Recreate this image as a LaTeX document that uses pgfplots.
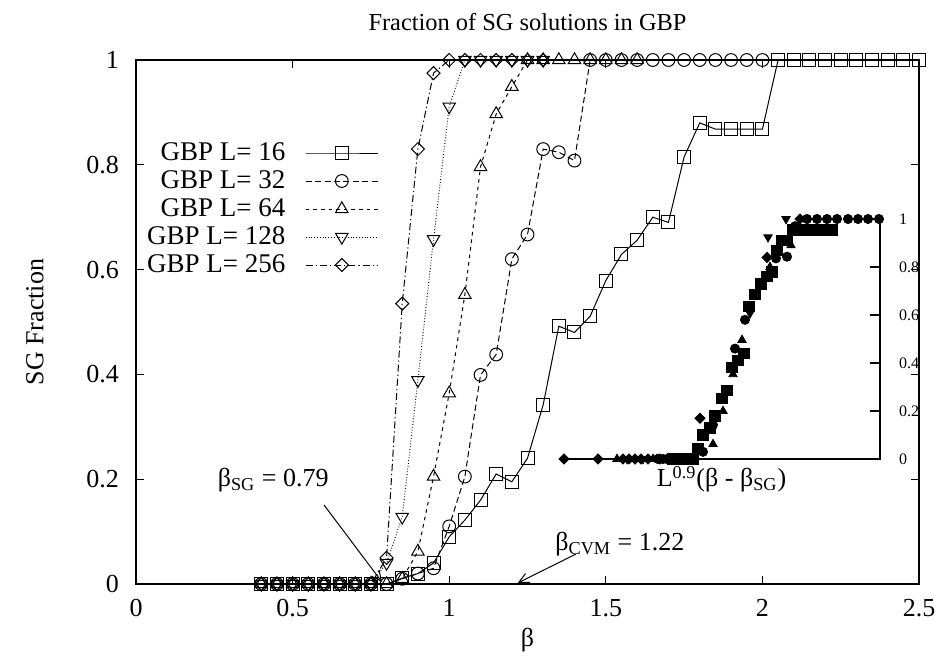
\documentclass[border=0pt]{standalone}
\usepackage{fontspec}
\setmainfont{Liberation Serif}
\usepackage{pgfplots}
\pgfplotsset{compat=1.18}
\usetikzlibrary{arrows.meta}
\begin{document}
\fontsize{13}{15.6}\selectfont
\begin{tikzpicture}
% main axis: 1px of the reference = 0.5pt
\begin{axis}[
  at={(68pt,41pt)}, anchor=south west,
  scale only axis, width=391.5pt, height=262pt,
  xmin=0, xmax=2.5, ymin=0, ymax=1,
  xtick={0,0.5,1,1.5,2,2.5}, xticklabels={0,0.5,1,1.5,2,2.5},
  ytick={0,0.2,0.4,0.6,0.8,1}, yticklabels={0,0.2,0.4,0.6,0.8,1},
  /pgf/number format/assume math mode=true,
  tick align=inside, major tick length=4pt,
  axis line style={line width=0.8pt},
  tick style={line width=0.6pt, black},
  yticklabel style={xshift=-4pt},
  xticklabel style={yshift=-3pt},
  clip=false,
  title={Fraction of SG solutions in GBP},
  every axis title/.style={at={(axis description cs:0.5,1.0725)}, anchor=center, font=\fontsize{12.2}{14}\selectfont},
  xlabel={β},
  every axis x label/.style={at={(axis description cs:0.5,-0.107)}, anchor=center},
  ylabel={SG Fraction},
  every axis y label/.style={at={(axis description cs:-0.129,0.5)}, anchor=center, rotate=90},
  legend style={draw=none, fill=none, at={(axis description cs:0.31,0.85)}, anchor=north east,
    inner sep=0pt, row sep=0pt, column sep=9pt,
    nodes={inner sep=1pt, text height=9.5pt, text depth=2.5pt, font=\fontsize{13.5}{16}\selectfont}},
  legend cell align=right,
  legend plot pos=right,
  legend image code/.code={\draw[mark repeat=2,mark phase=2,#1] plot coordinates {(0pt,0pt) (18pt,0pt) (36pt,0pt)};},
]
\addplot[black, line width=0.5pt, mark=square, mark size=3.25pt, mark options={solid}] coordinates {
(0.40,0)(0.45,0)(0.50,0)(0.55,0)(0.60,0)(0.65,0)(0.70,0)(0.75,0)(0.80,0)
(0.85,0.011)(0.90,0.02)(0.95,0.04)(1.00,0.09)(1.05,0.122)(1.10,0.16)(1.15,0.21)
(1.20,0.195)(1.25,0.24)(1.30,0.342)(1.35,0.492)(1.40,0.48)(1.45,0.511)(1.50,0.579)
(1.55,0.629)(1.60,0.656)(1.65,0.70)(1.70,0.69)(1.75,0.815)(1.80,0.88)(1.85,0.868)
(1.90,0.868)(1.95,0.868)(2.00,0.868)(2.05,1)(2.10,1)(2.15,1)(2.20,1)(2.25,1)
(2.30,1)(2.35,1)(2.40,1)(2.45,1)(2.50,1)};
\addlegendentry{GBP L= 16}
\addplot[black, line width=0.5pt, dash pattern=on 3pt off 1.7pt, mark=o, mark size=3.2pt, mark options={solid}] coordinates {
(0.40,0)(0.45,0)(0.50,0)(0.55,0)(0.60,0)(0.65,0)(0.70,0)(0.75,0)(0.80,0)
(0.85,0.01)(0.90,0.02)(0.95,0.03)(1.00,0.11)(1.05,0.205)(1.10,0.399)(1.15,0.438)
(1.20,0.62)(1.25,0.667)(1.30,0.83)(1.35,0.824)(1.40,0.808)(1.45,1)(1.50,1)
(1.55,1)(1.60,1)(1.65,1)(1.70,1)(1.75,1)(1.80,1)(1.85,1)(1.90,1)(1.95,1)(2.00,1)};
\addlegendentry{GBP L= 32}
\addplot[black, line width=0.5pt, dash pattern=on 1.8pt off 2pt, mark=triangle, mark size=3.6pt, mark options={solid}] coordinates {
(0.40,0)(0.45,0)(0.50,0)(0.55,0)(0.60,0)(0.65,0)(0.70,0)(0.75,0)(0.80,0)
(0.85,0.01)(0.90,0.062)(0.95,0.205)(1.00,0.364)(1.05,0.552)(1.10,0.796)(1.15,0.897)
(1.20,0.949)(1.25,1)(1.30,1)(1.35,1)(1.40,1)(1.45,1)(1.50,1)(1.55,1)(1.60,1)};
\addlegendentry{GBP L= 64}
\addplot[black, line width=0.5pt, dash pattern=on 0.4pt off 1pt, mark=triangle, mark size=3.6pt, mark options={solid, rotate=180}] coordinates {
(0.40,0)(0.45,0)(0.50,0)(0.55,0)(0.60,0)(0.65,0)(0.70,0)(0.75,0)
(0.80,0.04)(0.85,0.128)(0.90,0.389)(0.95,0.658)(1.00,0.911)(1.05,1)(1.10,1)
(1.15,1)(1.20,1)(1.25,1)(1.30,1)};
\addlegendentry{GBP L= 128}
\addplot[black, line width=0.5pt, dash pattern=on 3.5pt off 1.5pt on 0.6pt off 1.5pt, mark=square, mark size=2.3pt, mark options={solid, rotate=45}] coordinates {
(0.40,0)(0.45,0)(0.50,0)(0.55,0)(0.60,0)(0.65,0)(0.70,0)(0.75,0)
(0.80,0.05)(0.85,0.535)(0.90,0.83)(0.95,0.975)(1.00,1)(1.05,1)(1.10,1)
(1.15,1)(1.20,1)(1.25,1)(1.30,1)};
\addlegendentry{GBP L= 256}
\node at (axis cs:0.438,0.198) {β\textsubscript{SG} = 0.79};
\draw[line width=0.5pt, -{Straight Barb[length=5pt,width=5pt]}] (axis cs:0.6,0.151) -- (axis cs:0.785,0.004);
\node at (axis cs:1.545,0.076) {β\textsubscript{CVM} = 1.22};
\draw[line width=0.5pt, -{Straight Barb[length=5pt,width=5pt]}] (axis cs:1.404,0.057) -- (axis cs:1.219,0.002);
\end{axis}
% inset: data collapse, frame drawn only at the bottom and on the right
\begin{axis}[
  at={(281.5pt,103.5pt)}, anchor=south west,
  scale only axis, width=158.5pt, height=120pt,
  xmin=0, xmax=317, ymin=0, ymax=1,
  axis line style={draw=none},
  xtick=\empty,
  ytick={0,0.2,0.4,0.6,0.8,1}, yticklabels={0,0.2,0.4,0.6,0.8,1},
  ytick pos=right, yticklabel pos=right,
  /pgf/number format/assume math mode=true,
  tick align=inside, major tick length=5pt,
  tick style={line width=0.6pt, black},
  yticklabel style={font=\fontsize{8}{9.6}\selectfont, anchor=west, xshift=5pt},
  clip=false,
  xlabel={L\textsuperscript{0.9}(β - β\textsubscript{SG})},
  every axis x label/.style={at={(axis description cs:0.5,0)}, anchor=north, yshift=1pt},
]
\draw[line width=0.8pt] (rel axis cs:0,0) -- (rel axis cs:1,0) -- (rel axis cs:1,1);
\addplot[only marks, black, mark=square*, mark size=1.8pt, mark options={rotate=45}] coordinates {
(1,0)(35,0)(60,0)(66,0)(72,0)(78,0)(85,0)(97,0)(137,0.17)(204,0.84)(237,1)};
\addplot[only marks, black, mark=triangle*, mark size=2.4pt] coordinates {
(54,0)(90,0)(94,0)(112,0)(150,0.062)(160,0.20)(170,0.353)(179,0.496)(207,0.80)
(228,0.89)(237,0.945)(245,0.96)};
\addplot[only marks, black, mark=triangle*, mark size=2.4pt, mark options={rotate=180}] coordinates {
(64,0)(72,0)(80,0)(120,0)(187,0.607)(205,0.924)(223,1)};
\addplot[only marks, black, mark=square*, mark size=2.6pt] coordinates {
(110,0)(115,0)(120,0)(125,0)(130,0)(135,0.045)(140,0.1)(147,0.13)(152,0.18)
(159,0.253)(164,0.285)(169,0.382)(175,0.41)(181,0.44)(186,0.637)(192,0.687)
(198,0.729)(204,0.76)(209,0.78)(214,0.87)(219,0.912)(224,0.912)(230,0.955)
(235,0.955)(242,0.955)(249,0.955)(255,0.955)(262,0.955)(269,0.955)};
\addplot[only marks, black, mark=*, mark size=2.3pt] coordinates {
(95,0)(100,0)(104,0)(108,0)(140,0.03)(150,0.142)(172,0.46)(182,0.58)(192,0.683)
(213,0.836)(224,0.843)(232,0.97)(244,1)(254,1)(264,1)(274,1)(285,1)(295,1)
(305,1)(316,1)};
\end{axis}
\pgfresetboundingbox
\path[use as bounding box] (0,0) rectangle (470.5pt,333pt);
\end{tikzpicture}
\end{document}
